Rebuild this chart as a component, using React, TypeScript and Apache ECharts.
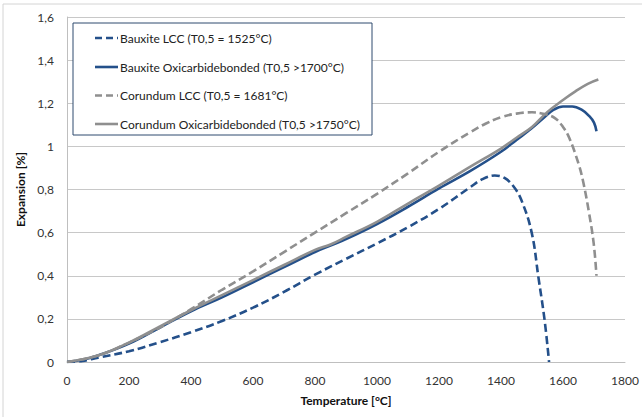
import React, { useEffect, useRef } from "react";
import * as echarts from "echarts";

const seriesNames = [
  "Bauxite LCC (T0,5 = 1525°C)",
  "Bauxite Oxicarbidebonded (T0,5 >1700°C)",
  "Corundum LCC (T0,5 = 1681°C)",
  "Corundum Oxicarbidebonded (T0,5 >1750°C)",
];

const bauxiteLCC: [number, number][] = [
  [0, 0], [50, 0.005], [100, 0.02], [200, 0.05], [300, 0.092], [400, 0.138],
  [500, 0.19], [600, 0.252], [700, 0.325], [800, 0.405], [900, 0.478], [1000, 0.55],
  [1100, 0.625], [1200, 0.71], [1300, 0.81], [1340, 0.848], [1380, 0.865],
  [1410, 0.855], [1440, 0.815], [1466, 0.75], [1499, 0.6], [1521, 0.39],
  [1541, 0.19], [1555, 0],
];

const bauxiteOxi: [number, number][] = [
  [0, 0], [50, 0.01], [100, 0.03], [200, 0.085], [300, 0.16], [400, 0.235],
  [500, 0.3], [600, 0.37], [700, 0.44], [800, 0.51], [850, 0.54], [900, 0.57],
  [1000, 0.64], [1100, 0.72], [1200, 0.805], [1300, 0.885], [1400, 0.975],
  [1450, 1.03], [1500, 1.085], [1540, 1.135], [1570, 1.17], [1600, 1.185],
  [1630, 1.185], [1660, 1.17], [1685, 1.14], [1700, 1.11], [1708, 1.07],
];

const corundumLCC: [number, number][] = [
  [0, 0], [100, 0.03], [200, 0.09], [300, 0.16], [400, 0.245], [500, 0.335],
  [600, 0.42], [700, 0.51], [800, 0.6], [900, 0.69], [1000, 0.78], [1100, 0.875],
  [1200, 0.975], [1300, 1.065], [1350, 1.105], [1400, 1.135], [1450, 1.152],
  [1500, 1.158], [1540, 1.15], [1575, 1.13], [1600, 1.09], [1620, 1.04],
  [1650, 0.92], [1666, 0.83], [1683, 0.7], [1699, 0.55], [1708, 0.4],
];

const corundumOxi: [number, number][] = [
  [0, 0], [100, 0.03], [200, 0.09], [300, 0.165], [400, 0.24], [500, 0.31],
  [600, 0.38], [700, 0.45], [800, 0.52], [850, 0.545], [900, 0.58], [1000, 0.65],
  [1100, 0.735], [1200, 0.818], [1300, 0.905], [1400, 0.99], [1450, 1.04],
  [1500, 1.09], [1550, 1.16], [1600, 1.215], [1640, 1.255], [1680, 1.29],
  [1714, 1.31],
];

const xTicks = { min: 0, max: 1800, interval: 200 };
const yTicks = { min: 0, max: 1.6, interval: 0.2 };

const BLUE = "#24508a";
const GRAY = "#8f8f8f";
const FONT = "Lato";

const seriesColors = [BLUE, BLUE, GRAY, GRAY];
const seriesDashed = [true, false, true, false];

export default function App() {
  const ref = useRef<HTMLDivElement>(null);
  useEffect(() => {
    if (!ref.current) return;
    const chart = echarts.init(ref.current, undefined, { renderer: "svg" });
    const mk = (name: string, data: [number, number][], color: string, dashed: boolean) => ({
      name,
      type: "line",
      data,
      showSymbol: false,
      symbol: "none",
      smooth: 0.4,
      lineStyle: { color, width: 2.6, type: dashed ? [8, 4] : "solid", cap: "butt" },
      itemStyle: { color },
    });

    const legendTop = 23;
    const legendLeft = 73;
    const rowY = [38, 67, 95.5, 124];
    const legendGraphics: any[] = [
      {
        type: "rect",
        shape: { x: legendLeft, y: legendTop, width: 299, height: 112 },
        style: { fill: "#ffffff", stroke: "#2f4a6e", lineWidth: 1 },
        z: 100,
        silent: true,
      },
    ];
    seriesNames.forEach((n, i) => {
      legendGraphics.push({
        type: "line",
        shape: { x1: 95, y1: rowY[i], x2: 118, y2: rowY[i] },
        style: {
          stroke: seriesColors[i],
          lineWidth: 2.6,
          lineDash: seriesDashed[i] ? [7, 4] : null,
        },
        z: 101,
        silent: true,
      });
      legendGraphics.push({
        type: "text",
        x: 120,
        y: rowY[i],
        style: {
          text: n,
          fontFamily: FONT,
          fontSize: 12,
          fill: "#222",
          verticalAlign: "middle",
          align: "left",
        },
        z: 101,
        silent: true,
      });
    });

    chart.setOption({
      animation: false,
      backgroundColor: "#ffffff",
      textStyle: { fontFamily: FONT },
      grid: { left: 67, right: 17, top: 17, bottom: 55, containLabel: false },
      graphic: [
        {
          type: "rect",
          shape: { x: 3, y: 4, width: 700, height: 500 },
          style: { fill: "none", stroke: "#d4d4d4", lineWidth: 1 },
          silent: true,
        },
        ...legendGraphics,
      ],
      xAxis: {
        type: "value",
        min: xTicks.min,
        max: xTicks.max,
        interval: xTicks.interval,
        name: "Temperature [°C]",
        nameLocation: "middle",
        nameGap: 32,
        nameTextStyle: { fontFamily: FONT, fontSize: 12, fontWeight: "bold", color: "#111" },
        axisLine: { show: true, lineStyle: { color: "#bfbfbf", width: 1 } },
        axisTick: { show: false },
        splitLine: { show: false },
        axisLabel: {
          color: "#333",
          fontSize: 12,
          fontFamily: FONT,
          margin: 12,
          formatter: (v: number) => String(v),
        },
      },
      yAxis: {
        type: "value",
        min: yTicks.min,
        max: yTicks.max,
        interval: yTicks.interval,
        name: "Expansion [%]",
        nameLocation: "middle",
        nameGap: 31,
        nameTextStyle: { fontFamily: FONT, fontSize: 12, fontWeight: "bold", color: "#111" },
        axisLine: { show: true, lineStyle: { color: "#bfbfbf", width: 1 } },
        axisTick: { show: false },
        splitLine: { show: true, lineStyle: { color: "#c8c8c8", width: 1 } },
        axisLabel: {
          color: "#333",
          fontSize: 12,
          fontFamily: FONT,
          margin: 13,
          formatter: (v: number) => String(Math.round(v * 10) / 10).replace(".", ","),
        },
      },
      series: [
        mk(seriesNames[0], bauxiteLCC, BLUE, true),
        mk(seriesNames[1], bauxiteOxi, BLUE, false),
        mk(seriesNames[2], corundumLCC, GRAY, true),
        mk(seriesNames[3], corundumOxi, GRAY, false),
      ],
    });
    return () => chart.dispose();
  }, []);
  return (
    <div
      ref={ref}
      style={{ position: "fixed", left: 0, top: 0, width: 642, height: 417 }}
    />
  );
}
